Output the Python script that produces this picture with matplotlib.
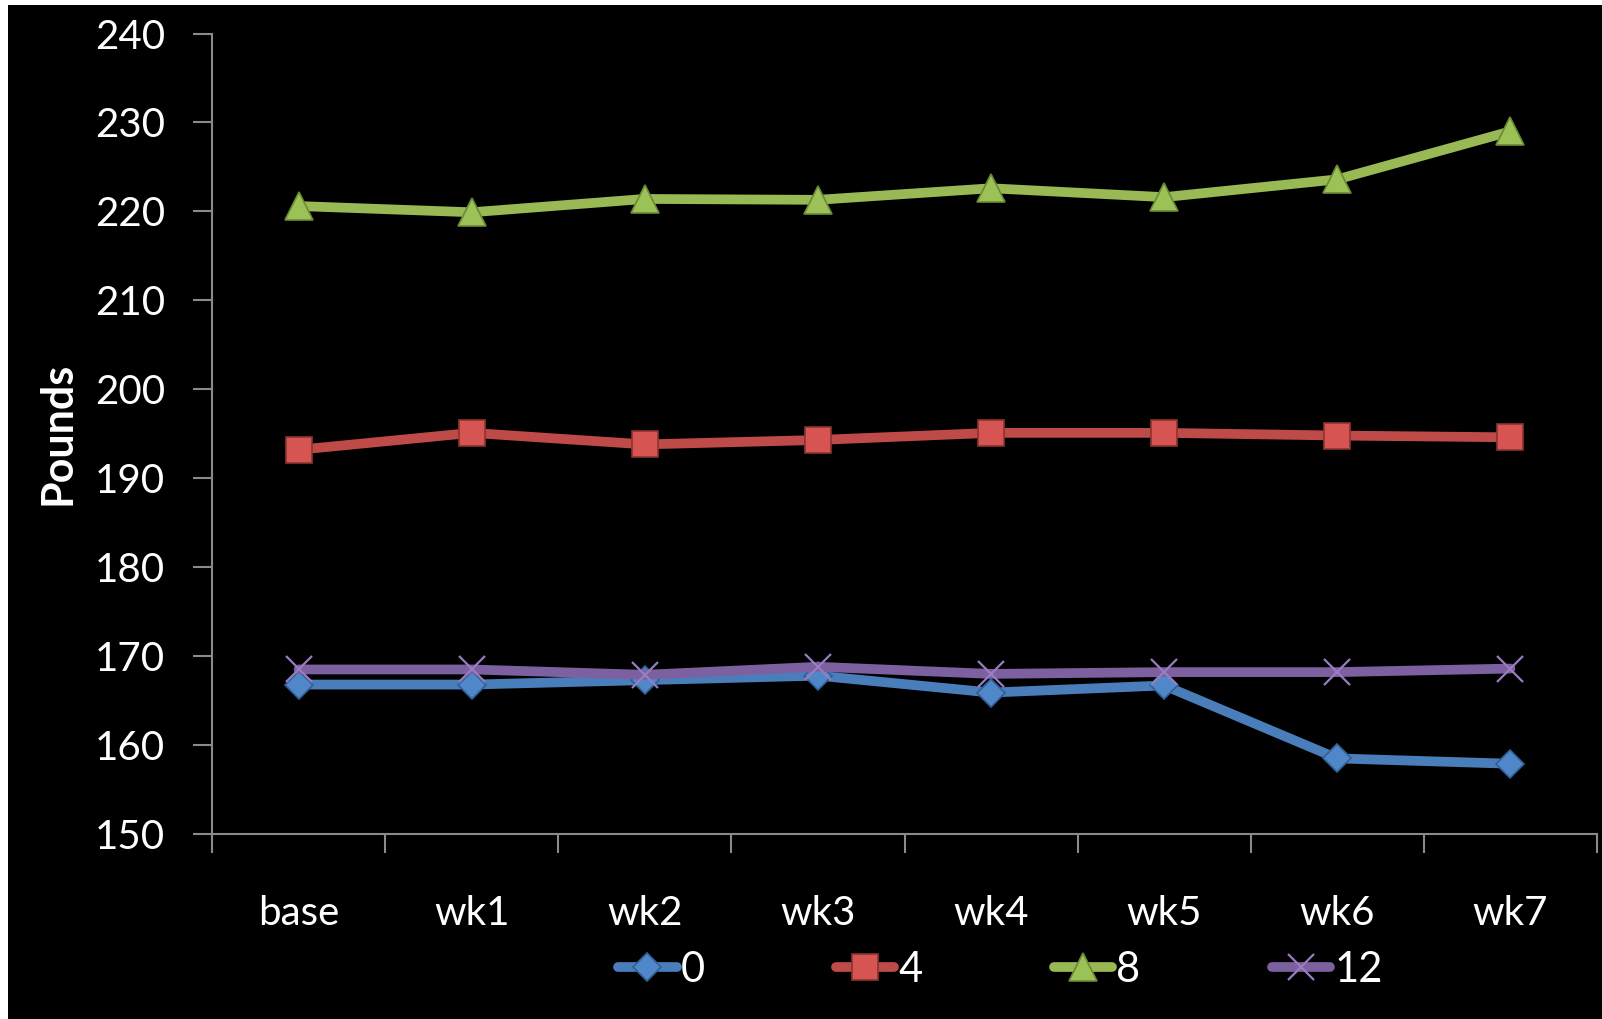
#!/usr/bin/env python3
"""Weekly body weight by group, line chart on a dark background"""

from __future__ import annotations

import matplotlib

matplotlib.use("Agg")

import matplotlib.pyplot as plt
from matplotlib.patches import Rectangle

WEEKS: list[str] = ["base", "wk1", "wk2", "wk3", "wk4", "wk5", "wk6", "wk7"]

GROUP_0: list[float] = [166.8, 166.8, 167.3, 167.8, 165.9, 166.7, 158.5, 157.9]
GROUP_4: list[float] = [193.2, 195.1, 193.8, 194.3, 195.1, 195.1, 194.8, 194.6]
GROUP_8: list[float] = [220.6, 219.9, 221.4, 221.3, 222.6, 221.6, 223.6, 229.0]
GROUP_12: list[float] = [168.5, 168.5, 167.9, 168.8, 168.0, 168.2, 168.2, 168.6]

GROUP_LABELS: list[str] = ["0", "4", "8", "12"]
Y_TICKS: list[int] = [150, 160, 170, 180, 190, 200, 210, 220, 230, 240]

# line colour, marker face, marker edge, marker style, marker size
STYLES = [
    ("#4a7ebb", "#4f87c9", "#2f5f96", "D", 14.5),
    ("#be4b48", "#d65552", "#8c3431", "s", 18.5),
    ("#98b954", "#9cc257", "#6a8a35", "^", 20),
    ("#7d60a0", "none", "#9a7cc0", "x", 19),
]

FONT = ["Lato", "DejaVu Sans"]
AXIS_GREY = "#8a8a8a"


def BuildFigure() -> plt.Figure:
    plt.rcParams["font.family"] = FONT
    fig = plt.figure(figsize=(16.02, 10.19), dpi=100, facecolor="white")
    # black slide area with a thin white margin on top and left
    fig.patches.append(
        Rectangle((8 / 1602, 0), 1, 1 - 5 / 1019, transform=fig.transFigure,
                  facecolor="black", edgecolor="none", zorder=-10)
    )

    ax = fig.add_axes([212 / 1602, 1 - 834 / 1019, 1385 / 1602, 800.5 / 1019])
    ax.set_facecolor("black")

    x = list(range(len(WEEKS)))
    handles = []
    for values, label, (lc, mfc, mec, mk, ms) in zip(
        [GROUP_0, GROUP_4, GROUP_8, GROUP_12], GROUP_LABELS, STYLES, strict=True
    ):
        (h,) = ax.plot(
            x, values, color=lc, linewidth=7, solid_capstyle="round",
            solid_joinstyle="round", marker=mk, markersize=ms,
            markerfacecolor=mfc if mk != "x" else mec, markeredgecolor=mec,
            markeredgewidth=1.6 if mk == "x" else 1.2, label=label,
        )
        handles.append(h)

    ax.set_xlim(-0.5, len(WEEKS) - 0.5)
    ax.set_ylim(150, 240)
    ax.set_yticks(Y_TICKS)
    ax.set_yticklabels([str(t) for t in Y_TICKS])

    ax.set_xticks(x)
    ax.set_xticklabels(WEEKS)
    ax.set_xticks([i - 0.5 for i in range(len(WEEKS) + 1)], minor=True)

    for side in ("top", "right"):
        ax.spines[side].set_visible(False)
    for side in ("left", "bottom"):
        ax.spines[side].set_color(AXIS_GREY)
        ax.spines[side].set_linewidth(1.5)

    ax.tick_params(axis="y", which="major", length=14, width=1.5, color=AXIS_GREY,
                   labelcolor="white", labelsize=29, pad=20)
    ax.tick_params(axis="x", which="major", length=0, labelcolor="white",
                   labelsize=29, pad=44)
    ax.tick_params(axis="x", which="minor", length=14, width=1.5, color=AXIS_GREY)

    ax.set_ylabel("Pounds", color="white", fontsize=31, fontweight="bold", labelpad=12)

    fig.legend(
        handles, GROUP_LABELS, loc="center", bbox_to_anchor=(0.6245, 1 - 970 / 1019),
        ncol=4, frameon=False, fontsize=30, labelcolor="white", handlelength=1.4,
        handletextpad=0.1, columnspacing=3.15,
    )
    return fig


def Main() -> int:
    fig = BuildFigure()
    fig.savefig("out.png", dpi=100, facecolor=fig.get_facecolor())
    plt.close(fig)
    return 0


if __name__ == "__main__":
    raise SystemExit(Main())
